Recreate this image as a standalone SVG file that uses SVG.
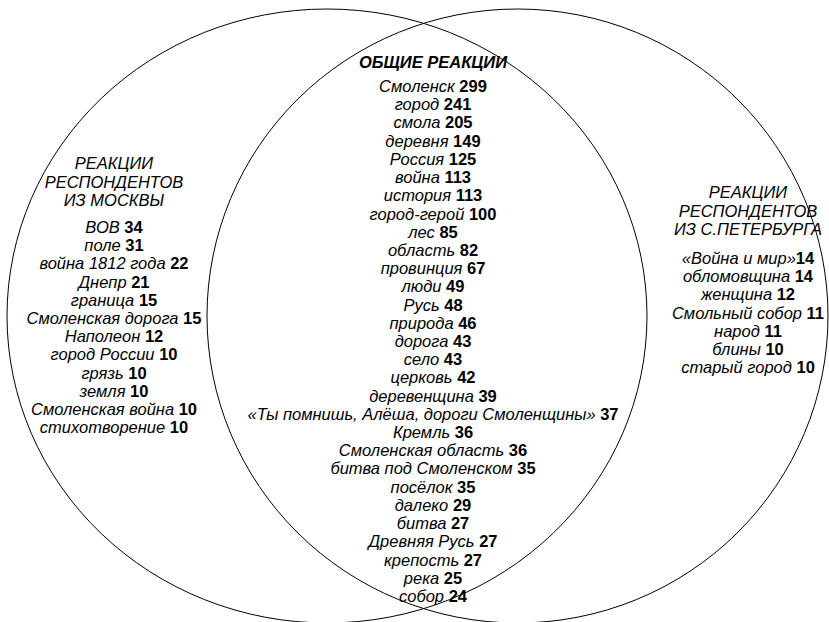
<svg xmlns="http://www.w3.org/2000/svg" width="829" height="622" viewBox="0 0 829 622">
<style>
.ring{fill:none;stroke:#000;stroke-width:1}
text{font-family:"Liberation Sans",Arial,sans-serif;font-size:16.5px;font-style:italic;fill:#000;text-anchor:middle}
.n{font-weight:bold;font-style:normal}
.h{font-weight:bold}
</style>
<rect width="829" height="622" fill="#fff"/>
<g id="circles">
<ellipse class="ring" cx="327" cy="316" rx="320" ry="307"/>
<ellipse class="ring" cx="517.5" cy="316" rx="310.5" ry="307"/>
</g>
<g id="moscow">
<text x="114" y="169">РЕАКЦИИ</text>
<text x="114" y="188">РЕСПОНДЕНТОВ</text>
<text x="114" y="206">ИЗ МОСКВЫ</text>
<text x="114" y="233">ВОВ <tspan class="n">34</tspan></text>
<text x="114" y="251.2">поле <tspan class="n">31</tspan></text>
<text x="114" y="269.4">война 1812 года <tspan class="n">22</tspan></text>
<text x="114" y="287.6">Днепр <tspan class="n">21</tspan></text>
<text x="114" y="305.8">граница <tspan class="n">15</tspan></text>
<text x="114" y="324">Смоленская дорога <tspan class="n">15</tspan></text>
<text x="114" y="342.2">Наполеон <tspan class="n">12</tspan></text>
<text x="114" y="360.4">город России <tspan class="n">10</tspan></text>
<text x="114" y="378.6">грязь <tspan class="n">10</tspan></text>
<text x="114" y="396.8">земля <tspan class="n">10</tspan></text>
<text x="114" y="415">Смоленская война <tspan class="n">10</tspan></text>
<text x="114" y="433.2">стихотворение <tspan class="n">10</tspan></text>
</g>
<g id="common">
<text class="h" x="433" y="68">ОБЩИЕ РЕАКЦИИ</text>
<text x="433" y="92">Смоленск <tspan class="n">299</tspan></text>
<text x="433" y="110.2">город <tspan class="n">241</tspan></text>
<text x="433" y="128.4">смола <tspan class="n">205</tspan></text>
<text x="433" y="146.6">деревня <tspan class="n">149</tspan></text>
<text x="433" y="164.8">Россия <tspan class="n">125</tspan></text>
<text x="433" y="183">война <tspan class="n">113</tspan></text>
<text x="433" y="201.3">история <tspan class="n">113</tspan></text>
<text x="433" y="219.5">город-герой <tspan class="n">100</tspan></text>
<text x="433" y="237.7">лес <tspan class="n">85</tspan></text>
<text x="433" y="255.9">область <tspan class="n">82</tspan></text>
<text x="433" y="274.1">провинция <tspan class="n">67</tspan></text>
<text x="433" y="292.3">люди <tspan class="n">49</tspan></text>
<text x="433" y="310.5">Русь <tspan class="n">48</tspan></text>
<text x="433" y="328.7">природа <tspan class="n">46</tspan></text>
<text x="433" y="346.9">дорога <tspan class="n">43</tspan></text>
<text x="433" y="365.1">село <tspan class="n">43</tspan></text>
<text x="433" y="383.4">церковь <tspan class="n">42</tspan></text>
<text x="433" y="401.6">деревенщина <tspan class="n">39</tspan></text>
<text x="433" y="419.8">«Ты помнишь, Алёша, дороги Смоленщины» <tspan class="n">37</tspan></text>
<text x="433" y="438">Кремль <tspan class="n">36</tspan></text>
<text x="433" y="456.2">Смоленская область <tspan class="n">36</tspan></text>
<text x="433" y="474.4">битва под Смоленском <tspan class="n">35</tspan></text>
<text x="433" y="492.6">посёлок <tspan class="n">35</tspan></text>
<text x="433" y="510.8">далеко <tspan class="n">29</tspan></text>
<text x="433" y="529">битва <tspan class="n">27</tspan></text>
<text x="433" y="547.3">Древняя Русь <tspan class="n">27</tspan></text>
<text x="433" y="565.5">крепость <tspan class="n">27</tspan></text>
<text x="433" y="583.7">река <tspan class="n">25</tspan></text>
<text x="433" y="601.9">собор <tspan class="n">24</tspan></text>
</g>
<g id="spb">
<text x="748" y="198">РЕАКЦИИ</text>
<text x="748" y="217">РЕСПОНДЕНТОВ</text>
<text x="748" y="235">ИЗ С.ПЕТЕРБУРГА</text>
<text x="748" y="264">«Война и мир»<tspan class="n">14</tspan></text>
<text x="748" y="282.2">обломовщина <tspan class="n">14</tspan></text>
<text x="748" y="300.4">женщина <tspan class="n">12</tspan></text>
<text x="748" y="318.6">Смольный собор <tspan class="n">11</tspan></text>
<text x="748" y="336.8">народ <tspan class="n">11</tspan></text>
<text x="748" y="355">блины <tspan class="n">10</tspan></text>
<text x="748" y="373.2">старый город <tspan class="n">10</tspan></text>
</g>
</svg>
